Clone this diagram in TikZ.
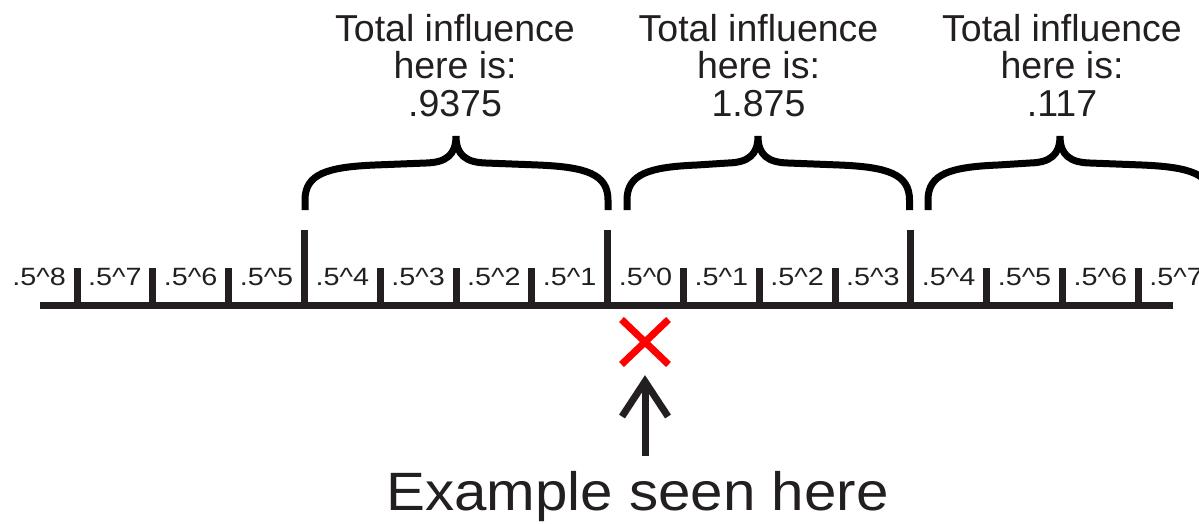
\documentclass[tikz,border=0pt]{standalone}
\usepackage{fontspec}
\setmainfont{Liberation Sans}
\newfontfamily\labfont[FakeStretch=1.15]{Liberation Sans}
\newfontfamily\exfont[FakeStretch=1.08]{Liberation Sans}
\usetikzlibrary{shapes.misc,calc}
\definecolor{ink}{HTML}{231F20}
\newcommand\mybrace[3]{%
  \draw[bracestyle] (#1,210) -- (#1,200) .. controls (#1,174) and ({#1+22},167) .. ({#1+70},165)
    -- ({#2-30},163) .. controls ({#2-10},162.5) and (#2,155) .. (#2,136)
    .. controls (#2,155) and ({#2+10},162.5) .. ({#2+30},163)
    -- ({#3-70},165) .. controls ({#3-22},167) and (#3,174) .. (#3,200) -- (#3,210);}
\begin{document}
\begin{tikzpicture}[x=1pt,y=-1pt,
  axisline/.style={draw=ink,line width=7.4pt},
  tickline/.style={draw=ink,line width=7pt},
  bracestyle/.style={draw=black,line width=7pt,line join=miter},
  lab/.style={font=\labfont\fontsize{25}{25}\selectfont,text=ink,inner sep=0pt,anchor=base},
  total/.style={font=\fontsize{37.5}{37.5}\selectfont,text=ink,inner sep=0pt,anchor=north,align=center},
  arrowline/.style={draw=ink,line width=7pt}]
\useasboundingbox (0,0) rectangle (1199,523);
% axis
\coordinate (axL) at (40,305.5);
\coordinate (axR) at (1173,305.5);
\draw[axisline] (axL) -- (axR);
% ticks
\foreach \i in {0,...,14}{
  \pgfmathsetmacro{\tx}{77+75.8*\i}
  \ifnum\i=3 \def\tt{229.5}\else\ifnum\i=7 \def\tt{229.5}\else\ifnum\i=11 \def\tt{229.5}\else\def\tt{267.5}\fi\fi\fi
  \draw[tickline] (\tx,305.5) -- (\tx,\tt);
}
% labels
\foreach \e [count=\k from 0] in {8,7,6,5,4,3,2,1,0,1,2,3,4,5,6,7}{
  \node[lab] (l\k) at ({39.1+75.8*\k},285.5) {.5\^{}\e};
}
% braces
\mybrace{305}{456}{608}
\mybrace{627}{758}{909.5}
\mybrace{928}{1060}{1212}
% totals
\node[total] (t1) at (455,14) {Total influence\\here is:\\.9375};
\node[total] (t2) at (758.5,14) {Total influence\\here is:\\1.875};
\node[total] (t3) at (1062,14) {Total influence\\here is:\\.117};
% cross
\node[cross out,draw=red,line width=7pt,minimum width=40pt,minimum height=38pt,inner sep=0pt] (cx) at (645,342) {};
% example text
\node[font=\exfont\fontsize{54}{54}\selectfont,text=ink,inner sep=0pt,anchor=base] (ex) at (637.5,510) {Example seen here};
% arrow
\coordinate (as) at (645,456);
\coordinate (at) at (645,381.5);
\draw[arrowline] (as) -- (at);
\draw[arrowline,line join=miter] ($(at)+(-23,35)$) -- (at) -- ($(at)+(23,35)$);
\end{tikzpicture}
\end{document}
